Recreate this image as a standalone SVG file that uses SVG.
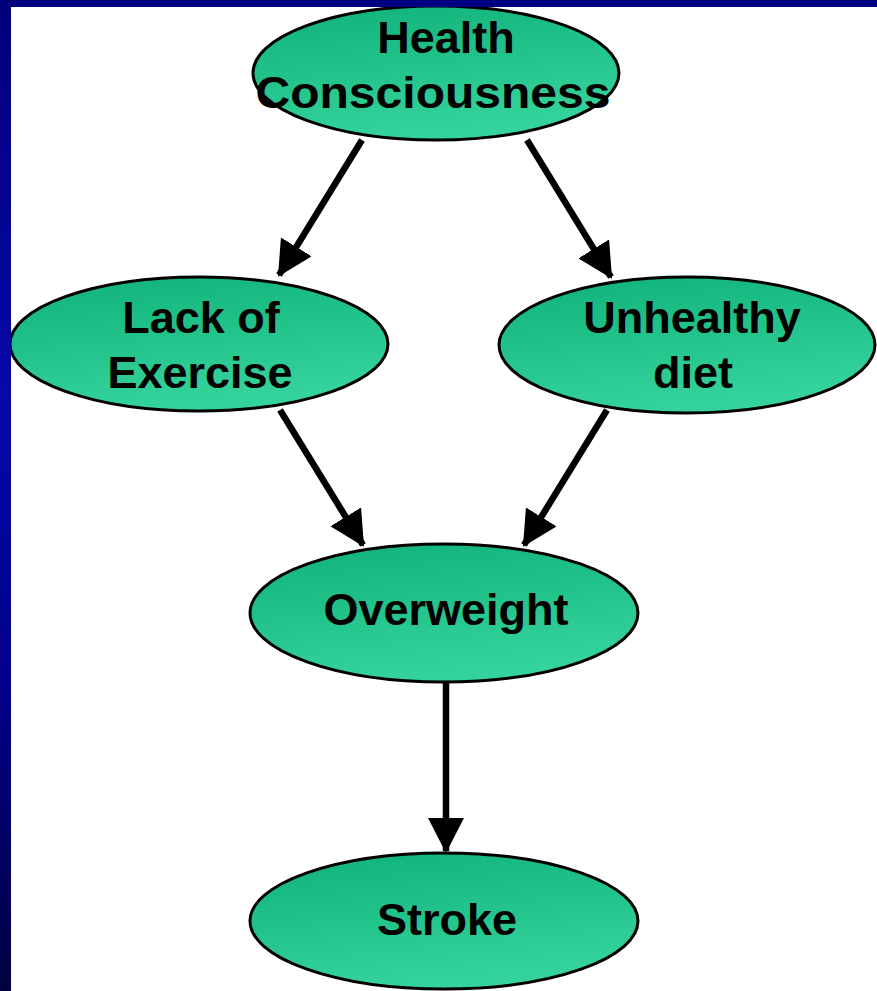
<svg xmlns="http://www.w3.org/2000/svg" width="877" height="991" viewBox="0 0 877 991">
  <defs>
    <linearGradient id="leftBar" x1="0" y1="0" x2="0" y2="1">
      <stop offset="0" stop-color="#00007a"/>
      <stop offset="0.4" stop-color="#0808a8"/>
      <stop offset="0.7" stop-color="#000088"/>
      <stop offset="1" stop-color="#000040"/>
    </linearGradient>
    <linearGradient id="nodeFill" x1="0" y1="0" x2="0.3" y2="1">
      <stop offset="0" stop-color="#0fb27a"/>
      <stop offset="1" stop-color="#34d39b"/>
    </linearGradient>
    <marker id="arrow" viewBox="0 0 35 36" refX="33" refY="18" markerWidth="35" markerHeight="36" markerUnits="userSpaceOnUse" orient="auto">
      <path d="M0,0 L35,18 L0,36 z" fill="#000"/>
    </marker>
  </defs>
  <style>
    .node ellipse { fill: url(#nodeFill); stroke: #000; stroke-width: 3; }
    .node text { font-family: "Liberation Sans", Arial, sans-serif; font-weight: bold; font-size: 45px; fill: #000; text-anchor: middle; }
    .edge { stroke: #000; stroke-width: 6.5; fill: none; marker-end: url(#arrow); }
  </style>
  <rect x="0" y="0" width="877" height="991" fill="#fff"/>

  <g id="connectors">
    <line class="edge" x1="362" y1="140" x2="279" y2="275"/>
    <line class="edge" x1="527" y1="140" x2="611" y2="277"/>
    <line class="edge" x1="280" y1="410" x2="363" y2="545"/>
    <line class="edge" x1="607" y1="410" x2="524" y2="545"/>
    <line class="edge" x1="446" y1="682" x2="446" y2="851"/>
  </g>

  <g id="health-consciousness" class="node">
    <ellipse cx="436" cy="73" rx="183" ry="67"/>
    <text x="446" y="53">Health</text>
    <text x="433" y="108" textLength="355" lengthAdjust="spacingAndGlyphs">Consciousness</text>
  </g>
  <g id="lack-of-exercise" class="node">
    <ellipse cx="199" cy="344" rx="189" ry="67"/>
    <text x="201" y="333">Lack of</text>
    <text x="200" y="388">Exercise</text>
  </g>
  <g id="unhealthy-diet" class="node">
    <ellipse cx="687" cy="345" rx="188" ry="68"/>
    <text x="692" y="333">Unhealthy</text>
    <text x="693" y="388">diet</text>
  </g>
  <g id="overweight" class="node">
    <ellipse cx="444" cy="613" rx="194" ry="69"/>
    <text x="446" y="625">Overweight</text>
  </g>
  <g id="stroke" class="node">
    <ellipse cx="444" cy="921" rx="194" ry="68"/>
    <text x="447" y="935">Stroke</text>
  </g>

  <rect x="0" y="0" width="877" height="7" fill="#000080"/>
  <rect x="0" y="0" width="11" height="991" fill="url(#leftBar)"/>
</svg>
